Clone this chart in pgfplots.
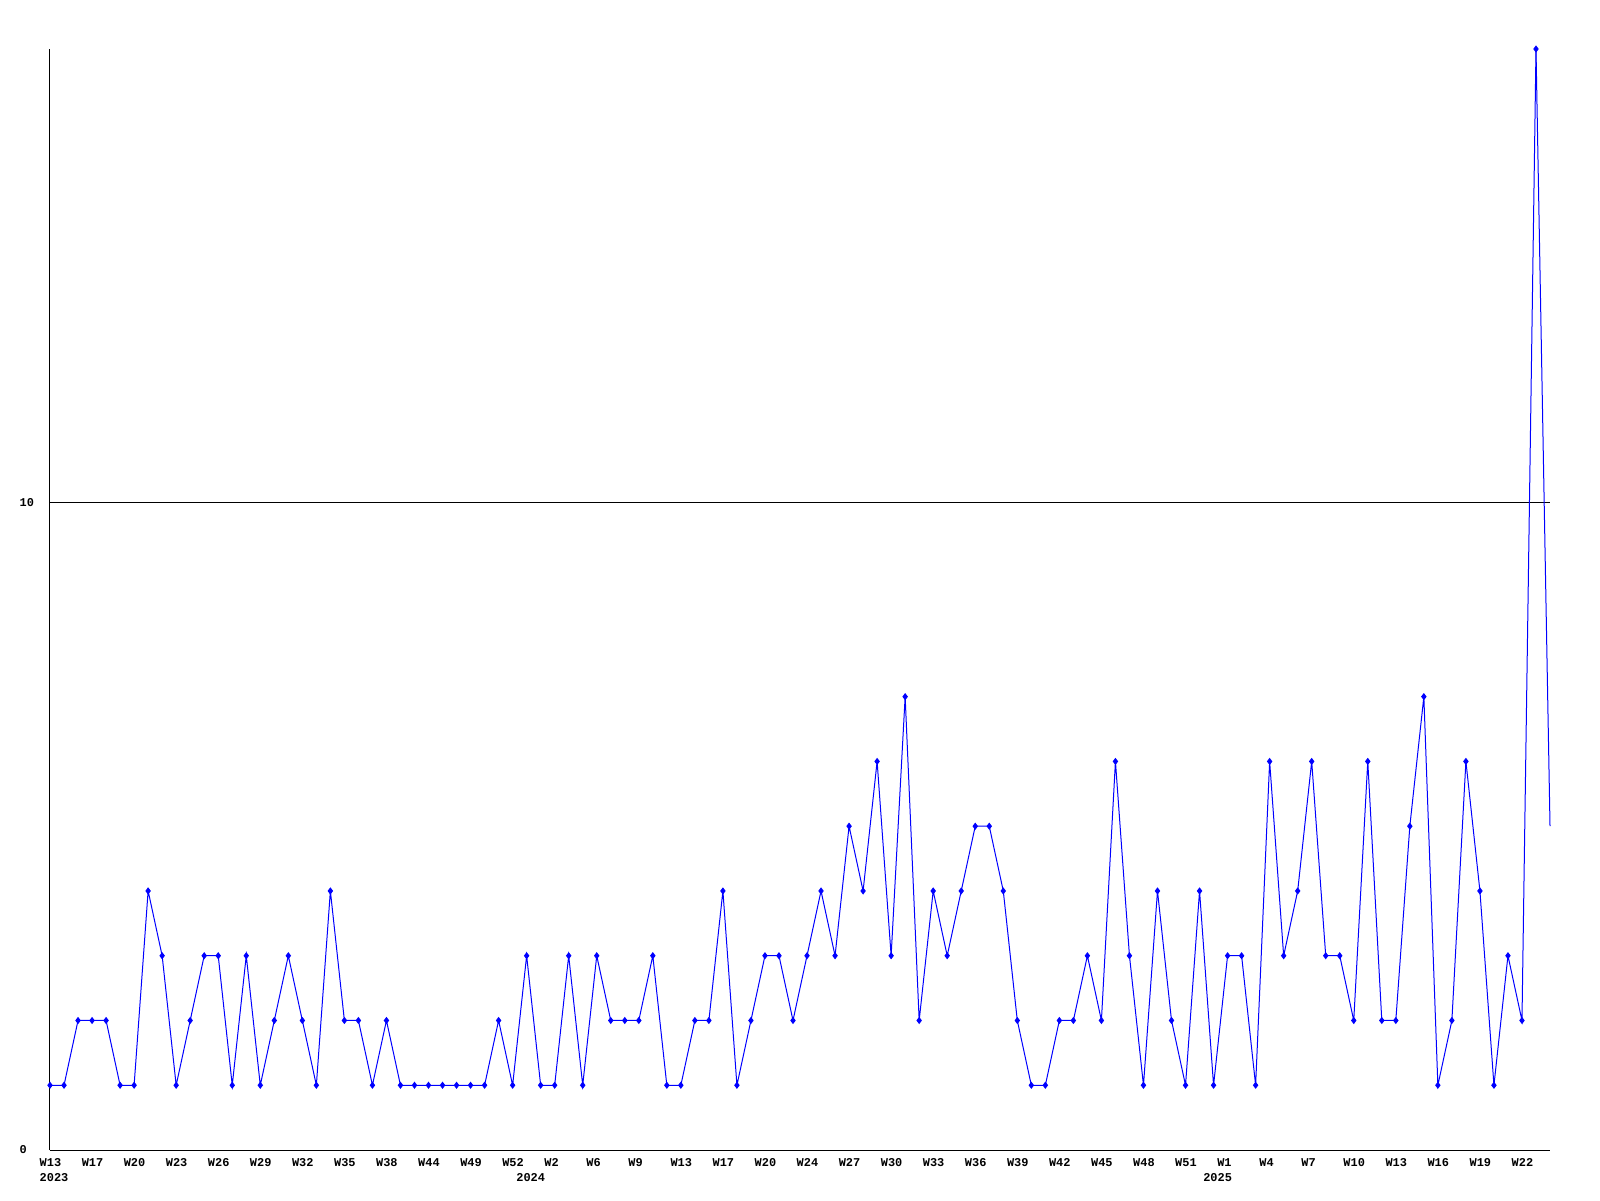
\documentclass[border=0pt]{standalone}
\usepackage{fontspec}
\setmainfont{Liberation Mono}
\usepackage{pgfplots}
\pgfplotsset{compat=1.18}
\begin{document}
\begin{tikzpicture}
\path[use as bounding box] (-0.5cm,-0.5cm) rectangle (15.5cm,11.5cm);
\begin{axis}[
  at={(0,0)}, anchor=south west,
  scale only axis,
  width=15cm, height=11.01cm,
  xmin=0, xmax=107, ymin=0, ymax=17,
  clip=false,
  axis lines=left,
  axis line style={-, black, line width=0.01cm},
  major tick length=0pt,
  tick style={draw=none},
  ytick={0,10},
  ymajorgrids=true,
  grid style={black, line width=0.01cm},
  xtick={0,3,...,105},
  xticklabels={W13,W17,W20,W23,W26,W29,W32,W35,W38,W44,W49,W52,W2,W6,W9,W13,W17,W20,W24,W27,W30,W33,W36,W39,W42,W45,W48,W51,W1,W4,W7,W10,W13,W16,W19,W22},
  extra x ticks={0,34,83},
  extra x tick labels={2023,2024,2025},
  extra x tick style={grid=none, major tick length=0pt, xticklabel style={yshift=-0.155cm}},
  xticklabel style={font=\fontsize{3.4}{4}\selectfont\bfseries, anchor=north west, inner sep=0pt, xshift=-0.11cm, yshift=-0.075cm},
  yticklabel style={font=\fontsize{3.4}{4}\selectfont\bfseries, anchor=west, inner sep=0pt, xshift=-0.31cm},
  /pgf/number format/assume math mode=true,
]
\addplot[color={rgb,255:red,0;green,0;blue,255}, line width=0.01cm, mark=diamond*, mark size=0.8pt, mark options={solid}] coordinates {
(0,1)(1,1)(2,2)(3,2)(4,2)(5,1)(6,1)(7,4)(8,3)(9,1)
(10,2)(11,3)(12,3)(13,1)(14,3)(15,1)(16,2)(17,3)(18,2)(19,1)
(20,4)(21,2)(22,2)(23,1)(24,2)(25,1)(26,1)(27,1)(28,1)(29,1)
(30,1)(31,1)(32,2)(33,1)(34,3)(35,1)(36,1)(37,3)(38,1)(39,3)
(40,2)(41,2)(42,2)(43,3)(44,1)(45,1)(46,2)(47,2)(48,4)(49,1)
(50,2)(51,3)(52,3)(53,2)(54,3)(55,4)(56,3)(57,5)(58,4)(59,6)
(60,3)(61,7)(62,2)(63,4)(64,3)(65,4)(66,5)(67,5)(68,4)(69,2)
(70,1)(71,1)(72,2)(73,2)(74,3)(75,2)(76,6)(77,3)(78,1)(79,4)
(80,2)(81,1)(82,4)(83,1)(84,3)(85,3)(86,1)(87,6)(88,3)(89,4)
(90,6)(91,3)(92,3)(93,2)(94,6)(95,2)(96,2)(97,5)(98,7)(99,1)
(100,2)(101,6)(102,4)(103,1)(104,3)(105,2)(106,17)
};
\addplot[color={rgb,255:red,0;green,0;blue,255}, line width=0.01cm, no marks] coordinates {(106,17)(107,5)};
\end{axis}
\end{tikzpicture}
\end{document}
